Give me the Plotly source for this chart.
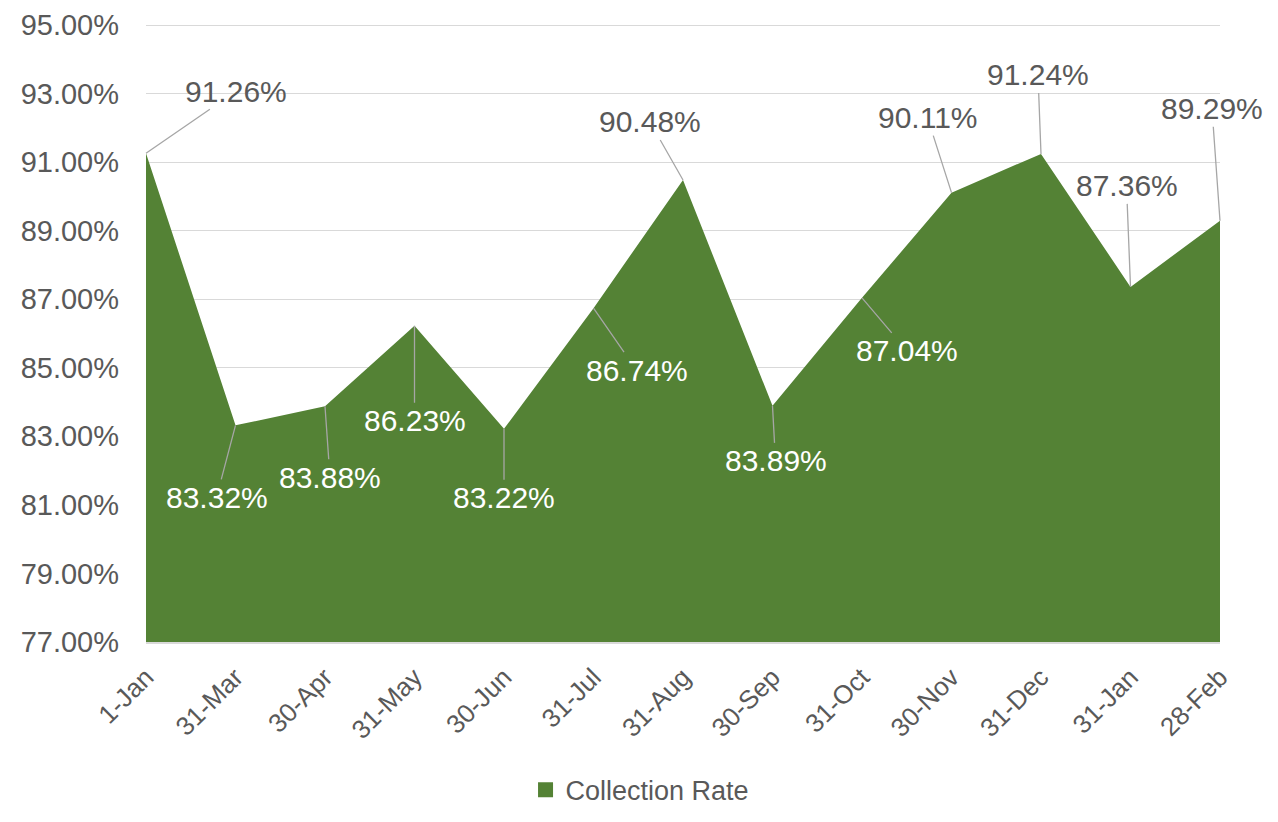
import plotly.graph_objects as go

# 数据
dates = ['1-Jan', '31-Mar', '30-Apr', '31-May', '30-Jun', '31-Jul', '31-Aug',
         '30-Sep', '31-Oct', '30-Nov', '31-Dec', '31-Jan', '28-Feb']
rates = [91.26, 83.32, 83.88, 86.23, 83.22, 86.74, 90.48,
         83.89, 87.04, 90.11, 91.24, 87.36, 89.29]

# 标签偏移 (像素) 与颜色
label_dx = [90, -19, 5, 0, 0, 43, -33, 3, 45, -24, -3, -4, -8]
label_dy = [-62, 72, 71, 95, 69, 62, -58, 55, 53, -75, -79, -101, -112]
label_inside = [False, True, True, True, True, True, False, True, True, False, False, False, False]

green = '#548235'
gray_text = '#595959'

fig = go.Figure()

# 面积图
fig.add_trace(go.Scatter(
    x=dates,
    y=rates,
    mode='none',
    name='Collection Rate',
    fill='tozeroy',
    fillcolor=green,
    hoverinfo='skip',
    showlegend=False
))

# 图例用方块
fig.add_trace(go.Scatter(
    x=[None], y=[None],
    mode='markers',
    name='Collection Rate',
    marker=dict(color=green, symbol='square', size=15),
    hoverinfo='skip'
))

# 数据标签（带引导线）
for d, v, dx, dy, inside in zip(dates, rates, label_dx, label_dy, label_inside):
    fig.add_annotation(
        x=d, y=v,
        text=f'{v:.2f}%',
        showarrow=True,
        arrowhead=0,
        arrowwidth=1.3,
        arrowcolor='#a6a6a6',
        standoff=0,
        ax=dx, ay=dy,
        font=dict(size=30, color='white' if inside else gray_text)
    )

# 页面有 8px 的 body 边距，这里相应收缩
fig.update_layout(
    width=1262,
    height=806,
    plot_bgcolor='white',
    paper_bgcolor='white',
    font=dict(family='Liberation Sans, Arial, sans-serif', size=28, color=gray_text),
    margin=dict(l=138, r=50, t=16, b=172, autoexpand=False),
    showlegend=True,
    legend=dict(
        orientation='h',
        x=0.46, xanchor='center',
        y=-0.24, yanchor='middle',
        font=dict(size=27, color=gray_text),
        itemwidth=30
    )
)

fig.update_xaxes(
    type='category',
    range=[0, len(dates) - 1],
    tickangle=-45,
    tickfont=dict(size=26, color=gray_text),
    showgrid=False,
    showline=True,
    linecolor='#d9d9d9',
    linewidth=1.5,
    ticks='',
    automargin=False,
    ticklabelstandoff=8
)
fig.update_yaxes(
    range=[77, 95.03],
    dtick=2,
    tick0=77,
    ticksuffix='%',
    tickformat='.2f',
    tickfont=dict(size=29, color=gray_text),
    showgrid=True,
    gridcolor='#d9d9d9',
    gridwidth=1.3,
    zeroline=False,
    ticks='',
    automargin=False,
    ticklabelstandoff=26
)

fig.write_html('out.html')
